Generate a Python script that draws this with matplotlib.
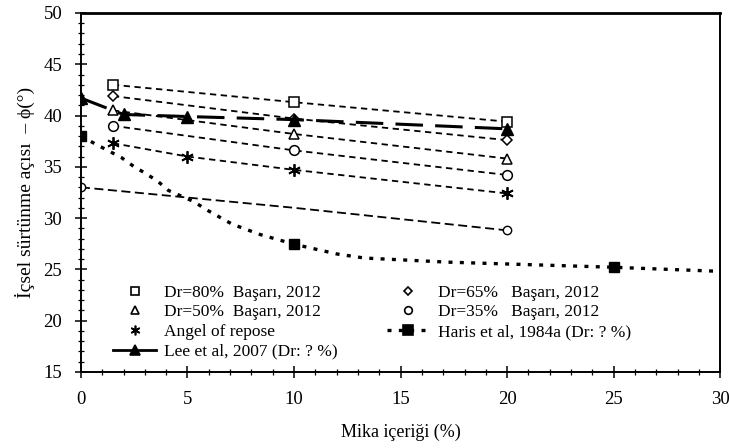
import matplotlib
matplotlib.use("Agg")
import matplotlib.pyplot as plt
from matplotlib.lines import Line2D
from matplotlib.ticker import MultipleLocator

plt.rcParams['font.family'] = ['Liberation Serif', 'DejaVu Serif']

# --- data ---
bas_x = [1.5, 10, 20]
dr80_y = [43.0, 41.3, 39.4]
dr65_y = [41.9, 39.7, 37.6]
dr50_y = [40.5, 38.2, 35.8]
dr35_y = [39.0, 36.6, 34.2]

angel_x = [1.5, 5, 10, 20]
angel_y = [37.3, 36.0, 34.7, 32.4]

extra_x = [0, 10, 20]
extra_y = [33.0, 31.0, 28.8]

lee_x = [0, 2, 5, 10, 20]
lee_y = [41.7, 40.1, 39.9, 39.6, 38.7]

haris_x = [0, 10, 25]
haris_y = [38.0, 27.45, 25.2]
haris_curve_x = [0, 0.7, 1.9, 2.5, 3.0, 3.6, 4.1, 5.3, 5.9, 6.5, 7.1, 8.4, 10,
                 12.0, 13.3, 17.2, 25, 30]
haris_curve_y = [38.0, 37.2, 35.9, 35.0, 34.4, 33.6, 32.7, 31.6, 30.8, 30.1, 29.4,
                 28.4, 27.45, 26.5, 26.1, 25.7, 25.2, 24.8]

labels = {
    'dr80': 'Dr=80%  Başarı, 2012',
    'dr65': 'Dr=65%   Başarı, 2012',
    'dr50': 'Dr=50%  Başarı, 2012',
    'dr35': 'Dr=35%   Başarı, 2012',
    'angel': 'Angel of repose',
    'lee': 'Lee et al, 2007 (Dr: ? %)',
    'haris': 'Haris et al, 1984a (Dr: ? %)',
}
xlabel = 'Mika içeriği (%)'
ylabel = 'İçsel sürtünme açısı  – ϕ(°)'

fig = plt.figure(figsize=(7.29, 4.48), dpi=100)
ax = fig.add_axes([0.111, 0.170, 0.877, 0.801])

dash = (0, (3.5, 2.5))
mk = dict(color='black', markerfacecolor='white', markeredgecolor='black',
          markersize=7, markeredgewidth=1.1, linewidth=1.3, linestyle=dash)

ax.plot(bas_x, dr80_y, marker='s', **mk)
ax.plot(bas_x, dr65_y, marker='D', **{**mk, 'markersize': 5.5})
ax.plot(bas_x, dr50_y, marker='^', **mk)
ax.plot(bas_x, dr35_y, marker='o', **mk)
ax.plot(angel_x, angel_y, marker=(6, 2, 0), color='black', markersize=9,
        markeredgewidth=1.3, linewidth=1.3, linestyle=dash)
ax.plot(extra_x, extra_y, marker='o', color='black', markerfacecolor='white',
        markersize=6, linewidth=1.3, linestyle=(0, (5, 2.5)), markevery=[0, 2])
ax.plot(lee_x, lee_y, marker='^', color='black', markersize=8,
        linewidth=2.2, linestyle=(0, (9, 4)))
ax.plot(haris_curve_x, haris_curve_y, color='black', linewidth=2.4,
        linestyle=(0, (1.2, 2.2)))
ax.plot(haris_x, haris_y, linestyle='none', marker='s', color='black', markersize=7)

ax.set_xlim(0, 30)
ax.set_ylim(15, 50)
ax.xaxis.set_major_locator(MultipleLocator(5))
ax.xaxis.set_minor_locator(MultipleLocator(1))
ax.yaxis.set_major_locator(MultipleLocator(5))
ax.yaxis.set_minor_locator(MultipleLocator(1))
ax.tick_params(which='major', direction='inout', length=9, width=1.1,
               labelsize=13.5, pad=9)
ax.tick_params(which='minor', direction='inout', length=5, width=0.9)
for s in ax.spines.values():
    s.set_linewidth(1.4)
ax.spines['top'].set_linewidth(2.0)

ax.set_xlabel(xlabel, fontsize=13)
ax.xaxis.set_label_coords(0.5, -0.145)
ax.set_ylabel(ylabel, fontsize=14, labelpad=6)

# legend proxies
def mh(marker, ms=5.5, fill='white', ls='none', lw=1.3):
    return Line2D([], [], color='black', marker=marker, markersize=ms,
                  markerfacecolor=fill, markeredgecolor='black',
                  markeredgewidth=1.2, linestyle=ls, linewidth=lw)

col1 = [mh('s'), mh('^'), mh((6, 2, 0), ms=7), mh('^', ms=7, fill='black', ls='-', lw=2)]
col1_lab = [labels['dr80'], labels['dr50'], labels['angel'], labels['lee']]
col2 = [mh('D', ms=4.5), mh('o'),
        mh('s', ms=7, fill='black', ls=(0, (1.2, 2.2)), lw=2.4)]
col2_lab = [labels['dr65'], labels['dr35'], labels['haris']]

common = dict(loc='upper left', frameon=False, fontsize=12.5, handlelength=2.5,
              labelspacing=0.2, handletextpad=0.45, borderpad=0, borderaxespad=0)
leg1 = ax.legend(col1, col1_lab, bbox_to_anchor=(0.050, 0.243), **common)
ax.add_artist(leg1)
ax.legend(col2, col2_lab, bbox_to_anchor=(0.478, 0.243), **common)

fig.savefig('out.png', dpi=100)
